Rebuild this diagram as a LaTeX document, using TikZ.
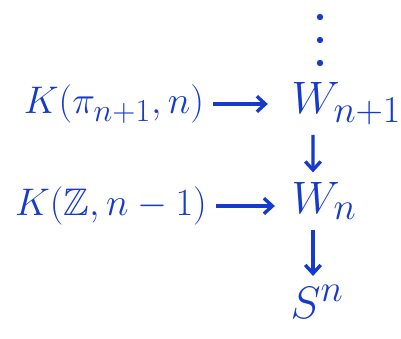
\documentclass[tikz,border=0pt]{standalone}
\usepackage{amsmath}
\usepackage{amssymb}
\usepackage{mathtools}
\usepackage{tikz}
\usetikzlibrary{arrows.meta}
\definecolor{pen}{RGB}{22,58,204}

\begin{document}
\begin{tikzpicture}[x=0.025cm, y=-0.025cm, color=pen, line width=2.4pt,
    >={Straight Barb[length=6pt,width=11pt]},
    every node/.style={font=\Huge, inner sep=1pt},
    fibre/.style={scale=1.1},
    stage/.style={scale=1.3}]
    \useasboundingbox (0,0) rectangle (401,339);
    % Tower
    \node[stage] (wtop) at (313,104) {$W_{\mathrlap{n+1}}$};
    \node[stage] (wn) at (313,201) {$W_{\mathrlap{n}}$};
    \node[stage] (sn) at (306,302) {$S^{\mathrlap{n}}$};
    % dots above
    \coordinate (dots) at (320,40);
    \foreach \dy in {-23,0,23}
        \fill (dots) ++(0,\dy) circle (3.2);

    % Fibres
    \node[fibre] (kpi) at (114,104) {$K(\pi_{n+1},n)$};
    \node[fibre] (kz) at (111,206) {$K(\mathbb{Z},n-1)$};

    \draw[->, shorten <=4pt, shorten >=14pt] (kpi.east) -- (wtop.west |- kpi.east);
    \draw[->, shorten <=4pt, shorten >=9pt] (kz.east) -- (wn.west |- kz.east);
    \draw[->, shorten <=4pt, shorten >=4pt] (wtop.south -| wn) -- (wn);
    \draw[->, shorten <=4pt, shorten >=4pt] (wn.south) -- (wn.south |- sn.north);
\end{tikzpicture}
\end{document}
